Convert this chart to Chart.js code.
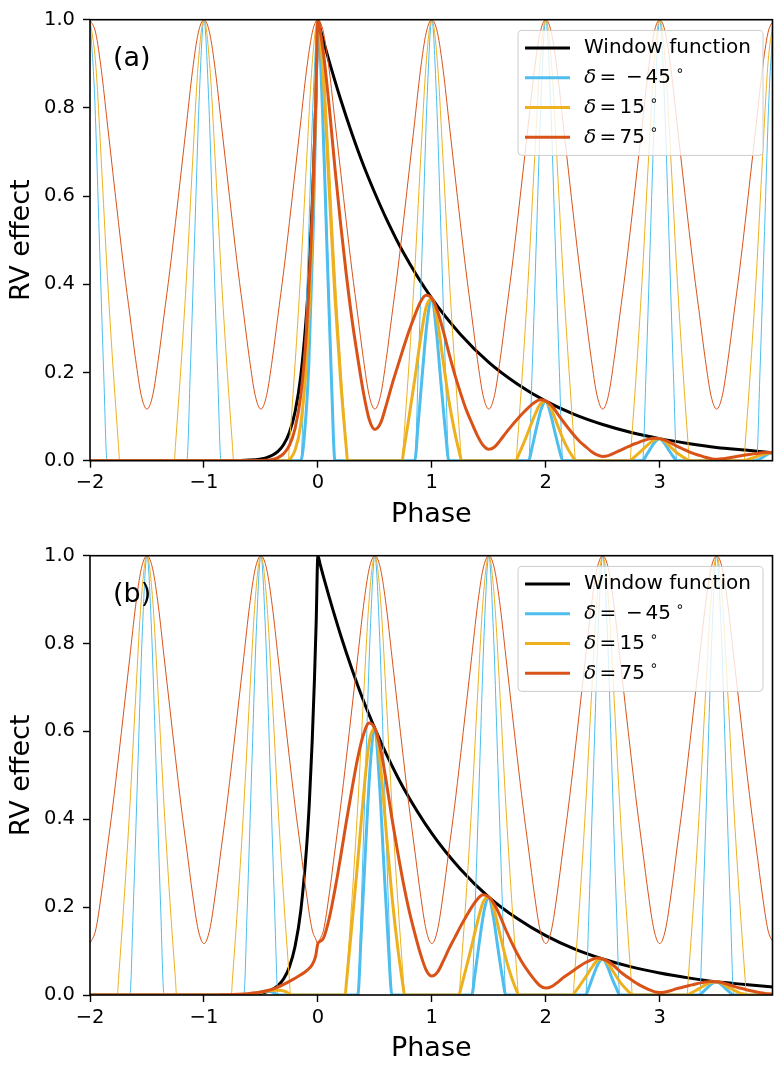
<!DOCTYPE html>
<html>
<head>
<meta charset="utf-8">
<script src="https://cdn.jsdelivr.net/npm/chart.js@4.4.1/dist/chart.umd.min.js"></script>
<style>
  html, body { margin: 0; padding: 0; background: #fff; overflow: hidden; }
  canvas { display: block; }
</style>
</head>
<body>
<canvas id="panelA" width="781" height="536"></canvas>
<canvas id="panelB" width="781" height="536"></canvas>
<script>
// phase grid shared by the thin/thick delta=75 curves
const phase = [
  -2, -1.95, -1.9, -1.85, -1.8, -1.75, -1.7, -1.65, -1.6, -1.55,
  -1.5, -1.45, -1.4, -1.35, -1.3, -1.25, -1.2, -1.15, -1.1, -1.05,
  -1, -0.95, -0.9, -0.85, -0.8, -0.75, -0.7, -0.65, -0.6, -0.55,
  -0.5, -0.45, -0.4, -0.35, -0.3, -0.25, -0.2, -0.15, -0.1, -0.05,
  -0.02, 0, 0.02,
  0.05, 0.1, 0.15, 0.2, 0.25, 0.3, 0.35, 0.4, 0.45,
  0.5, 0.55, 0.6, 0.65, 0.7, 0.75, 0.8, 0.85, 0.9, 0.95,
  1, 1.05, 1.1, 1.15, 1.2, 1.25, 1.3, 1.35, 1.4, 1.45,
  1.5, 1.55, 1.6, 1.65, 1.7, 1.75, 1.8, 1.85, 1.9, 1.95,
  2, 2.05, 2.1, 2.15, 2.2, 2.25, 2.3, 2.35, 2.4, 2.45,
  2.5, 2.55, 2.6, 2.65, 2.7, 2.75, 2.8, 2.85, 2.9, 2.95,
  3, 3.05, 3.1, 3.15, 3.2, 3.25, 3.3, 3.35, 3.4, 3.45,
  3.5, 3.55, 3.6, 3.65, 3.7, 3.75, 3.8, 3.85, 3.9, 3.95,
  4
];

// window function (both panels)
const windowX = [-2, -1, -0.8, -0.7, -0.6, -0.5, -0.45, -0.4, -0.35, -0.3, -0.25, -0.2, -0.15, -0.1, -0.075,
  -0.05, -0.03, -0.015, 0, 0.02, 0.05, 0.1, 0.2, 0.3, 0.4, 0.5, 0.6, 0.75, 1, 1.25, 1.5, 1.75, 2, 2.25, 2.5,
  2.75, 3, 3.25, 3.5, 3.75, 4];
const windowY = [0, 0, 0.0002, 0.0005, 0.0014, 0.0041, 0.0071, 0.0123, 0.0213, 0.0369, 0.0639, 0.111, 0.192, 0.333, 0.438,
  0.577, 0.719, 0.848, 1, 0.980, 0.951, 0.905, 0.819, 0.741, 0.670, 0.607, 0.549, 0.472, 0.368, 0.287, 0.223, 0.174, 0.135, 0.105, 0.082,
  0.064, 0.050, 0.039, 0.030, 0.024, 0.018];

// ---- panel (a) ----
const redThinA = [
  1, 0.97, 0.885, 0.77, 0.655, 0.54, 0.43, 0.33, 0.23, 0.148,
  0.117, 0.148, 0.23, 0.33, 0.43, 0.54, 0.655, 0.77, 0.885, 0.97,
  1, 0.97, 0.885, 0.77, 0.655, 0.54, 0.43, 0.33, 0.23, 0.148,
  0.117, 0.148, 0.23, 0.33, 0.43, 0.54, 0.655, 0.77, 0.885, 0.97,
  0.995, 1, 0.995,
  0.97, 0.885, 0.77, 0.655, 0.54, 0.43, 0.33, 0.23, 0.148,
  0.117, 0.148, 0.23, 0.33, 0.43, 0.54, 0.655, 0.77, 0.885, 0.97,
  1, 0.97, 0.885, 0.77, 0.655, 0.54, 0.43, 0.33, 0.23, 0.148,
  0.117, 0.148, 0.23, 0.33, 0.43, 0.54, 0.655, 0.77, 0.885, 0.97,
  1, 0.97, 0.885, 0.77, 0.655, 0.54, 0.43, 0.33, 0.23, 0.148,
  0.117, 0.148, 0.23, 0.33, 0.43, 0.54, 0.655, 0.77, 0.885, 0.97,
  1, 0.97, 0.885, 0.77, 0.655, 0.54, 0.43, 0.33, 0.23, 0.148,
  0.117, 0.148, 0.23, 0.33, 0.43, 0.54, 0.655, 0.77, 0.885, 0.97,
  1
];
const redThickA = [
  0, 0, 0, 0, 0, 0, 0, 0, 0, 0,
  0, 0, 0, 0, 0, 0, 0, 0, 0, 0,
  0, 0, 0, 0, 0, 0, 0, 0.0001, 0.0003, 0.0004,
  0.0005, 0.001, 0.0028, 0.007, 0.016, 0.0345, 0.073, 0.148, 0.295, 0.560,
  0.799, 1, 0.975,
  0.922, 0.801, 0.663, 0.536, 0.421, 0.319, 0.233, 0.154, 0.094,
  0.071, 0.085, 0.126, 0.172, 0.214, 0.255, 0.294, 0.329, 0.360, 0.375,
  0.368, 0.339, 0.295, 0.244, 0.197, 0.155, 0.117, 0.086, 0.057, 0.035,
  0.026, 0.031, 0.046, 0.063, 0.079, 0.094, 0.108, 0.121, 0.132, 0.138,
  0.135, 0.125, 0.108, 0.090, 0.073, 0.057, 0.043, 0.032, 0.021, 0.013,
  0.0096, 0.0115, 0.017, 0.023, 0.029, 0.035, 0.040, 0.045, 0.049, 0.051,
  0.050, 0.046, 0.040, 0.033, 0.027, 0.021, 0.016, 0.012, 0.0077, 0.0047,
  0.0035, 0.0042, 0.0063, 0.0086, 0.0107, 0.0127, 0.0146, 0.0164, 0.0179, 0.0187,
  0.0183
];
const yellowThinAX = [-2, -1.95, -1.9, -1.85, -1.8, -1.75, -1.74,
  -1.26, -1.25, -1.2, -1.15, -1.1, -1.05, -1, -0.95, -0.9, -0.85, -0.8, -0.75, -0.74,
  -0.26, -0.25, -0.2, -0.15, -0.1, -0.05, 0, 0.05, 0.1, 0.15, 0.2, 0.25, 0.26,
  0.74, 0.75, 0.8, 0.85, 0.9, 0.95, 1, 1.05, 1.1, 1.15, 1.2, 1.25, 1.26,
  1.74, 1.75, 1.8, 1.85, 1.9, 1.95, 2, 2.05, 2.1, 2.15, 2.2, 2.25, 2.26,
  2.74, 2.75, 2.8, 2.85, 2.9, 2.95, 3, 3.05, 3.1, 3.15, 3.2, 3.25, 3.26,
  3.74, 3.75, 3.8, 3.85, 3.9, 3.95, 4];
const yellowThinAY = [1, 0.9, 0.675, 0.43, 0.22, 0.035, 0,
  0, 0.035, 0.22, 0.43, 0.675, 0.9, 1, 0.9, 0.675, 0.43, 0.22, 0.035, 0,
  0, 0.035, 0.22, 0.43, 0.675, 0.9, 1, 0.9, 0.675, 0.43, 0.22, 0.035, 0,
  0, 0.035, 0.22, 0.43, 0.675, 0.9, 1, 0.9, 0.675, 0.43, 0.22, 0.035, 0,
  0, 0.035, 0.22, 0.43, 0.675, 0.9, 1, 0.9, 0.675, 0.43, 0.22, 0.035, 0,
  0, 0.035, 0.22, 0.43, 0.675, 0.9, 1, 0.9, 0.675, 0.43, 0.22, 0.035, 0,
  0, 0.035, 0.22, 0.43, 0.675, 0.9, 1];
const yellowThickAX = [-2, -0.26, -0.25, -0.2, -0.15, -0.1, -0.05, -0.025, 0, 0.05, 0.1, 0.15, 0.2, 0.25, 0.26,
  0.74, 0.75, 0.8, 0.85, 0.9, 0.95, 1, 1.05, 1.1, 1.15, 1.2, 1.25, 1.26,
  1.74, 1.75, 1.8, 1.85, 1.9, 1.95, 2, 2.05, 2.1, 2.15, 2.2, 2.25, 2.26,
  2.74, 2.75, 2.8, 2.85, 2.9, 2.95, 3, 3.05, 3.1, 3.15, 3.2, 3.25, 3.26,
  3.74, 3.75, 3.8, 3.85, 3.9, 3.95, 4];
const yellowThickAY = [0, 0, 0.002, 0.024, 0.083, 0.225, 0.519, 0.741, 1, 0.856, 0.611, 0.370, 0.180, 0.027, 0,
  0, 0.017, 0.099, 0.184, 0.275, 0.348, 0.368, 0.315, 0.225, 0.136, 0.066, 0.010, 0,
  0, 0.006, 0.036, 0.068, 0.101, 0.128, 0.135, 0.116, 0.083, 0.050, 0.024, 0.004, 0,
  0, 0.002, 0.013, 0.025, 0.037, 0.047, 0.050, 0.043, 0.030, 0.018, 0.009, 0.001, 0,
  0, 0.001, 0.005, 0.009, 0.014, 0.017, 0.018];
const blueThinAX = [-2, -1.96, -1.92, -1.88, -1.85,
  -1.15, -1.12, -1.08, -1.04, -1, -0.96, -0.92, -0.88, -0.85,
  -0.15, -0.12, -0.08, -0.04, 0, 0.04, 0.08, 0.12, 0.15,
  0.85, 0.88, 0.92, 0.96, 1, 1.04, 1.08, 1.12, 1.15,
  1.85, 1.88, 1.92, 1.96, 2, 2.04, 2.08, 2.12, 2.15,
  2.85, 2.88, 2.92, 2.96, 3, 3.04, 3.08, 3.12, 3.15,
  3.85, 3.88, 3.92, 3.96, 4];
const blueThinAY = [1, 0.83, 0.52, 0.2, 0,
  0, 0.2, 0.52, 0.83, 1, 0.83, 0.52, 0.2, 0,
  0, 0.2, 0.52, 0.83, 1, 0.83, 0.52, 0.2, 0,
  0, 0.2, 0.52, 0.83, 1, 0.83, 0.52, 0.2, 0,
  0, 0.2, 0.52, 0.83, 1, 0.83, 0.52, 0.2, 0,
  0, 0.2, 0.52, 0.83, 1, 0.83, 0.52, 0.2, 0,
  0, 0.2, 0.52, 0.83, 1];
const blueThickAX = [-2, -0.15, -0.12, -0.08, -0.04, -0.02, 0, 0.04, 0.08, 0.12, 0.15,
  0.85, 0.88, 0.92, 0.96, 1, 1.04, 1.08, 1.12, 1.15,
  1.85, 1.88, 1.92, 1.96, 2, 2.04, 2.08, 2.12, 2.15,
  2.85, 2.88, 2.92, 2.96, 3, 3.04, 3.08, 3.12, 3.15,
  3.85, 3.88, 3.92, 3.96, 4];
const blueThickAY = [0, 0, 0.053, 0.216, 0.535, 0.763, 1, 0.798, 0.480, 0.177, 0,
  0, 0.083, 0.207, 0.318, 0.368, 0.294, 0.177, 0.065, 0,
  0, 0.030, 0.076, 0.117, 0.135, 0.108, 0.065, 0.024, 0,
  0, 0.011, 0.028, 0.043, 0.050, 0.040, 0.024, 0.009, 0,
  0, 0.004, 0.010, 0.016, 0.018];

// ---- panel (b) ----
const redThinB = [
  0.117, 0.148, 0.23, 0.33, 0.43, 0.54, 0.655, 0.77, 0.885, 0.97,
  1, 0.97, 0.885, 0.77, 0.655, 0.54, 0.43, 0.33, 0.23, 0.148,
  0.117, 0.148, 0.23, 0.33, 0.43, 0.54, 0.655, 0.77, 0.885, 0.97,
  1, 0.97, 0.885, 0.77, 0.655, 0.54, 0.43, 0.33, 0.23, 0.148,
  0.128, 0.117, 0.128,
  0.148, 0.23, 0.33, 0.43, 0.54, 0.655, 0.77, 0.885, 0.97,
  1, 0.97, 0.885, 0.77, 0.655, 0.54, 0.43, 0.33, 0.23, 0.148,
  0.117, 0.148, 0.23, 0.33, 0.43, 0.54, 0.655, 0.77, 0.885, 0.97,
  1, 0.97, 0.885, 0.77, 0.655, 0.54, 0.43, 0.33, 0.23, 0.148,
  0.117, 0.148, 0.23, 0.33, 0.43, 0.54, 0.655, 0.77, 0.885, 0.97,
  1, 0.97, 0.885, 0.77, 0.655, 0.54, 0.43, 0.33, 0.23, 0.148,
  0.117, 0.148, 0.23, 0.33, 0.43, 0.54, 0.655, 0.77, 0.885, 0.97,
  1, 0.97, 0.885, 0.77, 0.655, 0.54, 0.43, 0.33, 0.23, 0.148,
  0.117
];
const redThickB = [
  0, 0, 0, 0, 0, 0, 0, 0, 0, 0,
  0, 0, 0, 0, 0, 0, 0, 0, 0, 0,
  0, 0, 0, 0.0005, 0.0008, 0.0012, 0.0018, 0.0025, 0.0035, 0.005,
  0.007, 0.0095, 0.013, 0.018, 0.024, 0.031, 0.038, 0.046, 0.055, 0.069,
  0.088, 0.117, 0.122,
  0.130, 0.175, 0.240, 0.315, 0.395, 0.470, 0.540, 0.593, 0.619,
  0.607, 0.560, 0.486, 0.402, 0.326, 0.255, 0.193, 0.141, 0.094, 0.057,
  0.043, 0.052, 0.077, 0.105, 0.130, 0.155, 0.178, 0.200, 0.218, 0.228,
  0.223, 0.206, 0.179, 0.148, 0.120, 0.094, 0.071, 0.052, 0.035, 0.021,
  0.0158, 0.019, 0.028, 0.039, 0.048, 0.057, 0.066, 0.074, 0.080, 0.084,
  0.082, 0.076, 0.066, 0.054, 0.044, 0.035, 0.026, 0.019, 0.013, 0.0077,
  0.0058, 0.0070, 0.0103, 0.0144, 0.0177, 0.021, 0.024, 0.027, 0.0294, 0.031,
  0.030, 0.028, 0.024, 0.020, 0.016, 0.0129, 0.0096, 0.0070, 0.0048, 0.0028,
  0.0022
];
const yellowThinBX = [-2,
  -1.76, -1.75, -1.7, -1.65, -1.6, -1.55, -1.5, -1.45, -1.4, -1.35, -1.3, -1.25, -1.24,
  -0.76, -0.75, -0.7, -0.65, -0.6, -0.55, -0.5, -0.45, -0.4, -0.35, -0.3, -0.25, -0.24,
  0.24, 0.25, 0.3, 0.35, 0.4, 0.45, 0.5, 0.55, 0.6, 0.65, 0.7, 0.75, 0.76,
  1.24, 1.25, 1.3, 1.35, 1.4, 1.45, 1.5, 1.55, 1.6, 1.65, 1.7, 1.75, 1.76,
  2.24, 2.25, 2.3, 2.35, 2.4, 2.45, 2.5, 2.55, 2.6, 2.65, 2.7, 2.75, 2.76,
  3.24, 3.25, 3.3, 3.35, 3.4, 3.45, 3.5, 3.55, 3.6, 3.65, 3.7, 3.75, 3.76,
  4];
const yellowThinBY = [0,
  0, 0.035, 0.22, 0.43, 0.675, 0.9, 1, 0.9, 0.675, 0.43, 0.22, 0.035, 0,
  0, 0.035, 0.22, 0.43, 0.675, 0.9, 1, 0.9, 0.675, 0.43, 0.22, 0.035, 0,
  0, 0.035, 0.22, 0.43, 0.675, 0.9, 1, 0.9, 0.675, 0.43, 0.22, 0.035, 0,
  0, 0.035, 0.22, 0.43, 0.675, 0.9, 1, 0.9, 0.675, 0.43, 0.22, 0.035, 0,
  0, 0.035, 0.22, 0.43, 0.675, 0.9, 1, 0.9, 0.675, 0.43, 0.22, 0.035, 0,
  0, 0.035, 0.22, 0.43, 0.675, 0.9, 1, 0.9, 0.675, 0.43, 0.22, 0.035, 0,
  0];
const yellowThickBX = [-2,
  -0.76, -0.75, -0.7, -0.65, -0.6, -0.55, -0.5, -0.45, -0.4, -0.35, -0.3, -0.25, -0.24,
  0.24, 0.25, 0.3, 0.35, 0.4, 0.45, 0.5, 0.55, 0.6, 0.65, 0.7, 0.75, 0.76,
  1.24, 1.25, 1.3, 1.35, 1.4, 1.45, 1.5, 1.55, 1.6, 1.65, 1.7, 1.75, 1.76,
  2.24, 2.25, 2.3, 2.35, 2.4, 2.45, 2.5, 2.55, 2.6, 2.65, 2.7, 2.75, 2.76,
  3.24, 3.25, 3.3, 3.35, 3.4, 3.45, 3.5, 3.55, 3.6, 3.65, 3.7, 3.75, 3.76,
  4];
const yellowThickBY = [0,
  0, 0, 0.0002, 0.0006, 0.0014, 0.0032, 0.006, 0.0088, 0.0105, 0.011, 0.0095, 0.0027, 0,
  0, 0.027, 0.163, 0.304, 0.453, 0.574, 0.607, 0.520, 0.371, 0.225, 0.109, 0.016, 0,
  0, 0.010, 0.060, 0.112, 0.166, 0.211, 0.223, 0.191, 0.136, 0.083, 0.040, 0.006, 0,
  0, 0.004, 0.022, 0.041, 0.061, 0.078, 0.082, 0.070, 0.050, 0.030, 0.015, 0.002, 0,
  0, 0.001, 0.008, 0.015, 0.023, 0.029, 0.030, 0.026, 0.018, 0.011, 0.005, 0.001, 0,
  0];
const blueThinBX = [-2,
  -1.65, -1.62, -1.58, -1.54, -1.5, -1.46, -1.42, -1.38, -1.35,
  -0.65, -0.62, -0.58, -0.54, -0.5, -0.46, -0.42, -0.38, -0.35,
  0.35, 0.38, 0.42, 0.46, 0.5, 0.54, 0.58, 0.62, 0.65,
  1.35, 1.38, 1.42, 1.46, 1.5, 1.54, 1.58, 1.62, 1.65,
  2.35, 2.38, 2.42, 2.46, 2.5, 2.54, 2.58, 2.62, 2.65,
  3.35, 3.38, 3.42, 3.46, 3.5, 3.54, 3.58, 3.62, 3.65,
  4];
const blueThinBY = [0,
  0, 0.2, 0.52, 0.83, 1, 0.83, 0.52, 0.2, 0,
  0, 0.2, 0.52, 0.83, 1, 0.83, 0.52, 0.2, 0,
  0, 0.2, 0.52, 0.83, 1, 0.83, 0.52, 0.2, 0,
  0, 0.2, 0.52, 0.83, 1, 0.83, 0.52, 0.2, 0,
  0, 0.2, 0.52, 0.83, 1, 0.83, 0.52, 0.2, 0,
  0, 0.2, 0.52, 0.83, 1, 0.83, 0.52, 0.2, 0,
  0];
const blueThickBX = [-2,
  -0.65, -0.62, -0.58, -0.54, -0.5, -0.46, -0.42, -0.38, -0.35,
  0.35, 0.38, 0.42, 0.46, 0.5, 0.54, 0.58, 0.62, 0.65,
  1.35, 1.38, 1.42, 1.46, 1.5, 1.54, 1.58, 1.62, 1.65,
  2.35, 2.38, 2.42, 2.46, 2.5, 2.54, 2.58, 2.62, 2.65,
  3.35, 3.38, 3.42, 3.46, 3.5, 3.54, 3.58, 3.62, 3.65,
  4];
const blueThickBY = [0,
  0, 0.0004, 0.0016, 0.0037, 0.0067, 0.0083, 0.0078, 0.0045, 0,
  0, 0.137, 0.342, 0.524, 0.607, 0.484, 0.291, 0.107, 0,
  0, 0.050, 0.126, 0.193, 0.223, 0.178, 0.107, 0.039, 0,
  0, 0.018, 0.046, 0.071, 0.082, 0.066, 0.039, 0.015, 0,
  0, 0.007, 0.017, 0.026, 0.030, 0.024, 0.014, 0.005, 0,
  0];

const xTicks = [-2, -1, 0, 1, 2, 3];
const yTicks = [0, 0.2, 0.4, 0.6, 0.8, 1.0];
const legendItems = [
  { label: 'Window function', color: '#000000' },
  { delta: '45', neg: true, color: '#4DBEEE' },
  { delta: '15', neg: false, color: '#EDB120' },
  { delta: '75', neg: false, color: '#D95319' }
];

const FAMILY = '"DejaVu Sans"';
const BLUE = '#4DBEEE', YELLOW = '#EDB120', RED = '#D95319';

function pts(xs, ys) {
  return xs.map((x, i) => ({ x: x, y: ys[i] }));
}
function curve(xs, ys, color, width) {
  return {
    data: pts(xs, ys),
    borderColor: color,
    borderWidth: width,
    pointRadius: 0,
    fill: false,
    cubicInterpolationMode: 'monotone'
  };
}

// "δ = −45∘" style label, mimicking matplotlib mathtext spacing
function drawLegendRow(ctx, x, y, item) {
  ctx.fillStyle = '#000';
  ctx.textAlign = 'left';
  ctx.textBaseline = 'middle';
  if (item.label) {
    ctx.font = '20px ' + FAMILY;
    ctx.fillText(item.label, x, y);
    return;
  }
  ctx.font = 'italic 20px ' + FAMILY;
  ctx.fillText('\u03b4', x, y);
  ctx.font = '20px ' + FAMILY;
  ctx.fillText('=', x + 15.5, y);
  let nx = x + 35.5;
  if (item.neg) {
    ctx.fillText('\u2212', x + 42, y);
    nx = x + 61.5;
  }
  ctx.fillText(item.delta, nx, y);
  const w = ctx.measureText(item.delta).width;
  ctx.font = '14px ' + FAMILY;
  ctx.fillText('\u2218', nx + w + 4.5, y - 6.5);
}

const decorPlugin = {
  id: 'decor',
  afterDatasetsDraw(chart, args, opts) {
    const ctx = chart.ctx, a = chart.chartArea;
    ctx.save();
    // spines
    ctx.strokeStyle = '#000';
    ctx.lineWidth = 1.6;
    ctx.strokeRect(a.left, a.top, a.right - a.left, a.bottom - a.top);

    // axis titles
    ctx.fillStyle = '#000';
    ctx.font = '27px ' + FAMILY;
    ctx.textAlign = 'center';
    ctx.textBaseline = 'middle';
    ctx.fillText('Phase', (a.left + a.right) / 2, a.bottom + 54);
    ctx.save();
    ctx.translate(22, (a.top + a.bottom) / 2);
    ctx.rotate(-Math.PI / 2);
    ctx.fillText('RV effect', 0, 0);
    ctx.restore();

    // panel tag
    ctx.textAlign = 'left';
    ctx.font = '27px ' + FAMILY;
    ctx.fillText(opts.tag, a.left + 23, a.top + 39.5);

    // legend box
    const bw = 245, bh = 125, r = 4;
    const bx = a.right - 9.5 - bw, by = a.top + 10.7;
    ctx.beginPath();
    ctx.moveTo(bx + r, by);
    ctx.lineTo(bx + bw - r, by);
    ctx.arcTo(bx + bw, by, bx + bw, by + r, r);
    ctx.lineTo(bx + bw, by + bh - r);
    ctx.arcTo(bx + bw, by + bh, bx + bw - r, by + bh, r);
    ctx.lineTo(bx + r, by + bh);
    ctx.arcTo(bx, by + bh, bx, by + bh - r, r);
    ctx.lineTo(bx, by + r);
    ctx.arcTo(bx, by, bx + r, by, r);
    ctx.closePath();
    ctx.fillStyle = 'rgba(255,255,255,0.8)';
    ctx.fill();
    ctx.strokeStyle = '#cccccc';
    ctx.lineWidth = 1;
    ctx.stroke();

    legendItems.forEach((item, i) => {
      const ry = by + 17.5 + i * 29.8;
      ctx.strokeStyle = item.color;
      ctx.lineWidth = 3;
      ctx.beginPath();
      ctx.moveTo(bx + 7, ry);
      ctx.lineTo(bx + 52, ry);
      ctx.stroke();
      drawLegendRow(ctx, bx + 66, ry, item);
    });
    ctx.restore();
  }
};

function makePanel(id, sets, tag, topPad, xHeight) {
  new Chart(document.getElementById(id), {
    type: 'line',
    data: { datasets: sets },
    plugins: [decorPlugin],
    options: {
      responsive: false,
      animation: false,
      devicePixelRatio: 1,
      events: [],
      layout: { padding: { top: topPad, right: 8.5, left: 0, bottom: 0 } },
      plugins: {
        legend: { display: false },
        tooltip: { enabled: false },
        decor: { tag: tag }
      },
      scales: {
        x: {
          type: 'linear',
          min: -2,
          max: 3.99,
          afterFit: s => { s.height = xHeight; },
          afterBuildTicks: s => { s.ticks = xTicks.map(v => ({ value: v })); },
          border: { display: false },
          grid: { drawOnChartArea: false, drawTicks: true, tickLength: 7, tickColor: '#000', tickWidth: 1.4 },
          ticks: {
            color: '#000',
            padding: 4,
            maxRotation: 0,
            autoSkip: false,
            font: { family: 'DejaVu Sans', size: 19.5 },
            callback: v => (v < 0 ? '\u2212' + Math.abs(v) : String(v))
          }
        },
        y: {
          min: 0,
          max: 1,
          afterFit: s => { s.width = 90; },
          afterBuildTicks: s => { s.ticks = yTicks.map(v => ({ value: v })); },
          border: { display: false },
          grid: { drawOnChartArea: false, drawTicks: true, tickLength: 7, tickColor: '#000', tickWidth: 1.4 },
          ticks: {
            color: '#000',
            padding: 8,
            font: { family: 'DejaVu Sans', size: 19.5 },
            callback: v => Number(v).toFixed(1)
          }
        }
      }
    }
  });
}

// first dataset is drawn on top
makePanel('panelA', [
  curve(phase, redThickA, RED, 3),
  curve(phase, redThinA, RED, 1),
  curve(yellowThickAX, yellowThickAY, YELLOW, 3),
  curve(yellowThinAX, yellowThinAY, YELLOW, 1),
  curve(blueThickAX, blueThickAY, BLUE, 3),
  curve(blueThinAX, blueThinAY, BLUE, 1),
  curve(windowX, windowY, '#000000', 3)
], '(a)', 17.3, 75.3);

makePanel('panelB', [
  curve(phase, redThickB, RED, 3),
  curve(phase, redThinB, RED, 1),
  curve(yellowThickBX, yellowThickBY, YELLOW, 3),
  curve(yellowThinBX, yellowThinBY, YELLOW, 1),
  curve(blueThickBX, blueThickBY, BLUE, 3),
  curve(blueThinBX, blueThinBY, BLUE, 1),
  curve(windowX, windowY, '#000000', 3)
], '(b)', 15.7, 77);
</script>
</body>
</html>
